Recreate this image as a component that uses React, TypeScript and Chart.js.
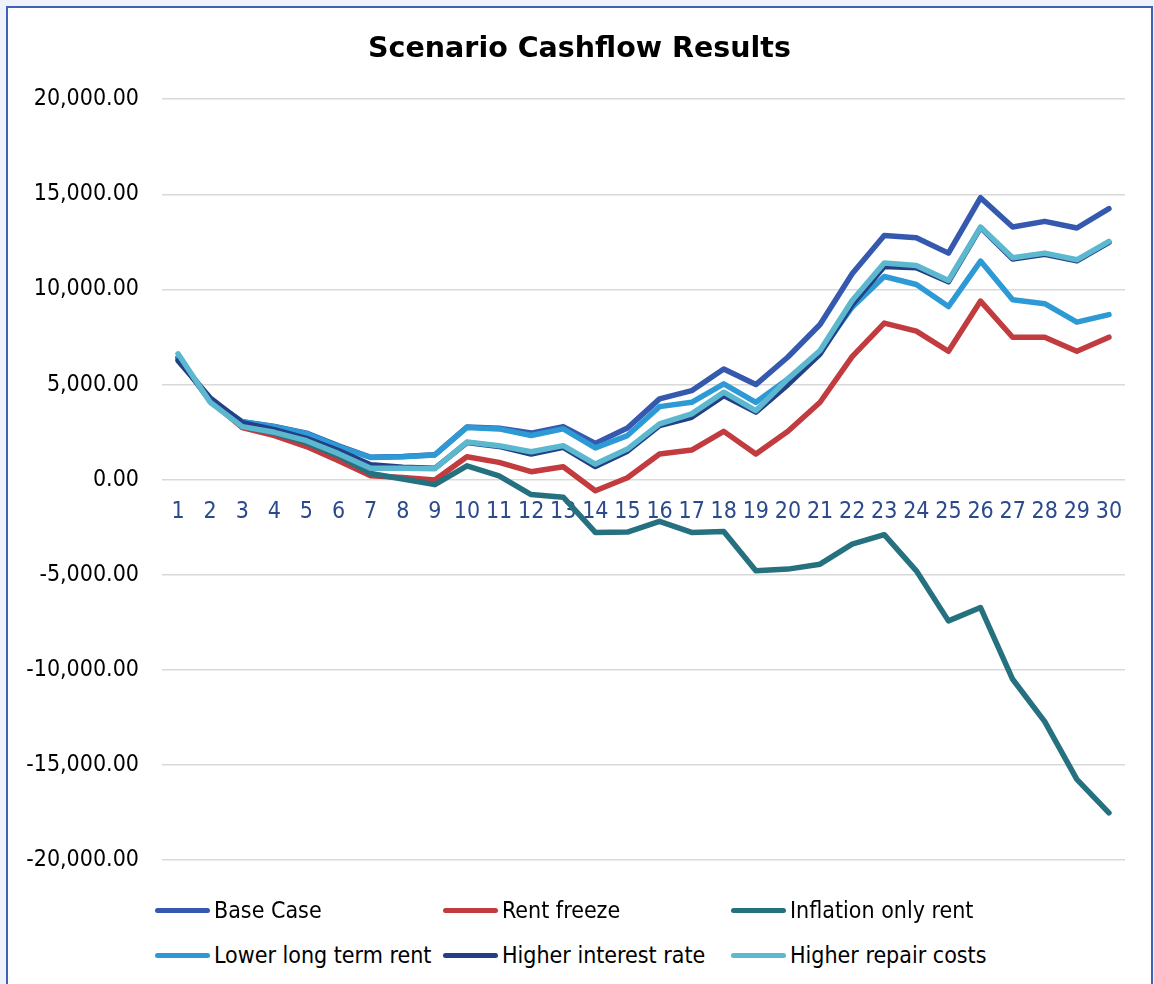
import React, { useEffect, useRef } from "react";
import { Chart, registerables } from "chart.js";

Chart.register(...registerables);

const FONT = "'DejaVu Sans Condensed', 'Liberation Sans Narrow', 'DejaVu Sans', sans-serif";

const chartTitle = "Scenario Cashflow Results";

const years = [
  "1", "2", "3", "4", "5", "6", "7", "8", "9", "10",
  "11", "12", "13", "14", "15", "16", "17", "18", "19", "20",
  "21", "22", "23", "24", "25", "26", "27", "28", "29", "30",
];

const seriesNames = [
  "Base Case",
  "Rent freeze",
  "Inflation only rent",
  "Lower long term rent",
  "Higher interest rate",
  "Higher repair costs",
];

const seriesColors = ["#3559AE", "#C23B3E", "#26717F", "#2E9AD5", "#243F85", "#5CB8CF"];

const baseCase = [
  6400, 4200, 3050, 2800, 2450, 1780, 1180, 1220, 1310, 2770,
  2700, 2450, 2790, 1910, 2720, 4250, 4680, 5820, 5000, 6450,
  8160, 10830, 12840, 12720, 11910, 14820, 13280, 13580, 13230, 14250,
];

const rentFreeze = [
  6400, 4150, 2740, 2320, 1740, 1000, 210, 120, -20, 1210,
  910, 420, 680, -580, 100, 1350, 1560, 2540, 1350, 2550,
  4070, 6470, 8230, 7810, 6750, 9390, 7490, 7490, 6750, 7490,
];

const inflationOnlyRent = [
  6400, 4150, 2800, 2450, 1950, 1250, 330, 40, -260, 730,
  200, -780, -920, -2770, -2750, -2190, -2770, -2720, -4790, -4700,
  -4440, -3390, -2890, -4790, -7420, -6720, -10490, -12720, -15750, -17510,
];

const lowerLongTermRent = [
  6400, 4200, 3050, 2790, 2420, 1740, 1170, 1210, 1300, 2750,
  2670, 2320, 2670, 1670, 2320, 3840, 4070, 5040, 4070, 5300,
  6700, 9070, 10680, 10260, 9100, 11490, 9460, 9250, 8280, 8680,
];

const higherInterestRate = [
  6260, 4300, 3000, 2630, 2170, 1530, 790, 650, 600, 1950,
  1750, 1350, 1700, 690, 1500, 2840, 3280, 4420, 3550, 5000,
  6610, 9200, 11210, 11140, 10400, 13250, 11600, 11850, 11500, 12480,
];

const higherRepairCosts = [
  6615, 4070, 2790, 2490, 2050, 1370, 600, 600, 580, 1980,
  1790, 1470, 1790, 820, 1610, 2930, 3460, 4600, 3630, 5300,
  6790, 9420, 11390, 11260, 10470, 13280, 11670, 11910, 11560, 12530,
];

const seriesValues = [
  baseCase,
  rentFreeze,
  inflationOnlyRent,
  lowerLongTermRent,
  higherInterestRate,
  higherRepairCosts,
];

const legendColX = [147, 435, 723];
const legendRowY = [902, 947];

export default function App() {
  const canvasRef = useRef<HTMLCanvasElement | null>(null);

  useEffect(() => {
    const canvas = canvasRef.current;
    if (!canvas) return;
    const n = seriesNames.length;
    const chart = new Chart(canvas, {
      type: "line",
      data: {
        labels: years,
        datasets: seriesNames.map((name, i) => ({
          label: name,
          data: seriesValues[i],
          borderColor: seriesColors[i],
          backgroundColor: seriesColors[i],
          borderWidth: 5.5,
          borderCapStyle: "round",
          borderJoinStyle: "round",
          pointRadius: 0,
          pointHoverRadius: 0,
          fill: false,
          tension: 0,
          order: n - i,
          yAxisID: "y",
        })),
      },
      options: {
        animation: false,
        responsive: false,
        maintainAspectRatio: false,
        layout: { padding: { left: 0, right: 0, top: 0, bottom: 0 } },
        plugins: {
          legend: { display: false },
          tooltip: { enabled: false },
          title: {
            display: true,
            text: chartTitle,
            color: "#000",
            font: { family: "'DejaVu Sans', sans-serif", size: 28.5, weight: "bold", lineHeight: 1.2 },
            padding: { top: 24, bottom: 33 },
          },
        },
        scales: {
          x: {
            type: "category",
            position: { y: 0 },
            offset: true,
            grid: { display: false, drawTicks: false },
            border: { display: false },
            ticks: {
              color: "#2B4A8B",
              font: { family: FONT, size: 23 },
              padding: 19,
              autoSkip: false,
              maxRotation: 0,
              minRotation: 0,
            },
          },
          y: {
            min: -20000,
            max: 20000,
            grid: { color: "#D9D9D9", lineWidth: 1.5, drawTicks: false },
            border: { display: false },
            ticks: {
              stepSize: 5000,
              color: "#000",
              font: { family: FONT, size: 23 },
              padding: 23,
              callback: (v: any) =>
                Number(v).toLocaleString("en-US", { minimumFractionDigits: 2, maximumFractionDigits: 2 }),
            },
            afterFit: (s: any) => {
              s.width = 154;
            },
          },
          yRight: {
            position: "right",
            display: true,
            grid: { display: false, drawTicks: false },
            border: { display: false },
            ticks: { display: false },
            afterFit: (s: any) => {
              s.width = 26;
            },
          },
        },
      },
    } as any);
    return () => chart.destroy();
  }, []);

  return (
    <div style={{ position: "fixed", inset: 0, background: "#EEF2FA", overflow: "hidden" }}>
      <div
        style={{
          position: "absolute",
          left: 6,
          top: 6,
          width: 1147,
          height: 1010,
          boxSizing: "border-box",
          border: "2px solid #3E62B4",
          background: "#FFFFFF",
        }}
      >
        <canvas ref={canvasRef} width={1143} height={889} style={{ display: "block", width: 1143, height: 889 }} />
        {seriesNames.map((name, i) => (
          <div
            key={name}
            style={{
              position: "absolute",
              left: legendColX[i % 3],
              top: legendRowY[Math.floor(i / 3)] - 16,
              height: 32,
              display: "flex",
              alignItems: "center",
            }}
          >
            <span
              style={{
                display: "inline-block",
                width: 55,
                height: 5,
                borderRadius: 3,
                background: seriesColors[i],
              }}
            />
            <span
              style={{
                marginLeft: 4,
                fontFamily: FONT,
                fontSize: 23,
                color: "#000",
                whiteSpace: "nowrap",
                lineHeight: "32px",
              }}
            >
              {name}
            </span>
          </div>
        ))}
      </div>
    </div>
  );
}
